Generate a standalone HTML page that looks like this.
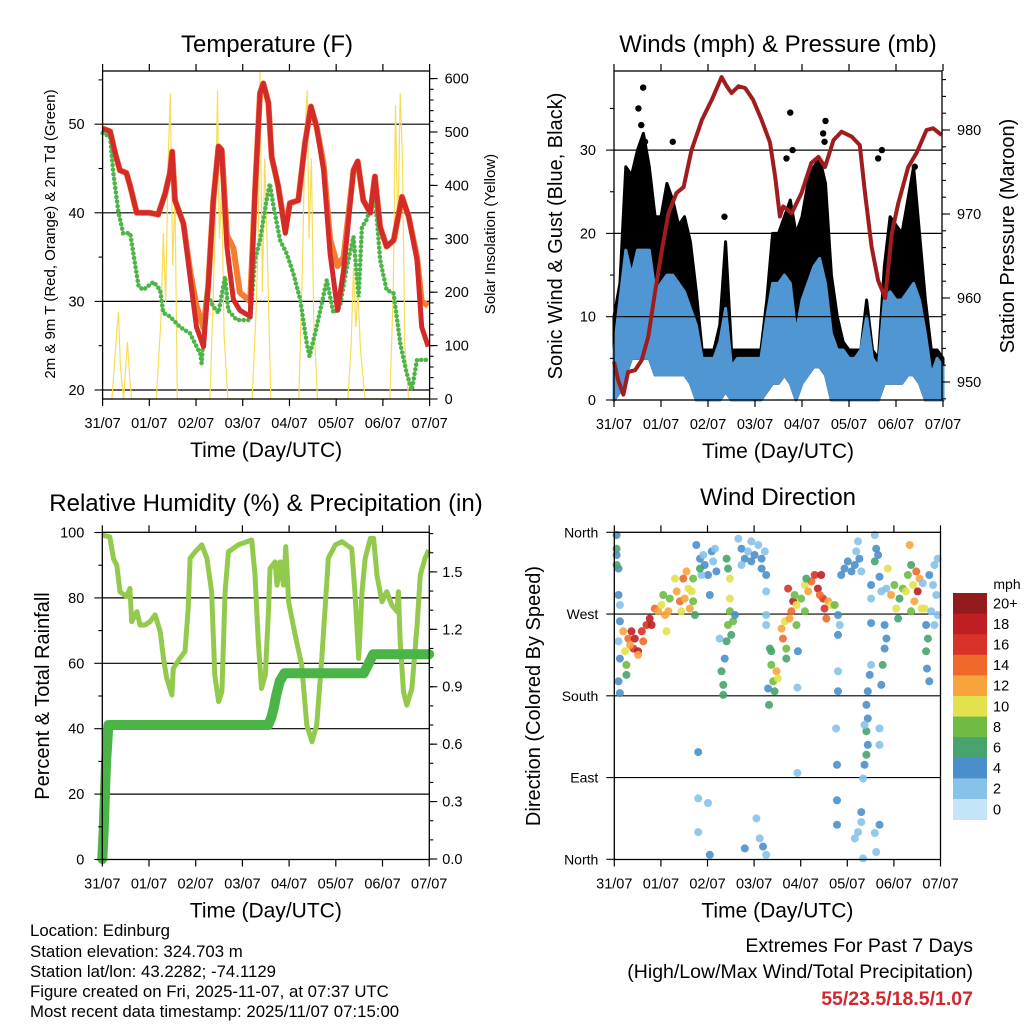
<!DOCTYPE html>
<html><head><meta charset="utf-8"><style>
body{margin:0;background:#fff;}
svg{display:block;font-family:"Liberation Sans",Arial,sans-serif;}
</style></head><body>
<svg id="root" width="1024" height="1024" viewBox="0 0 1024 1024" xmlns="http://www.w3.org/2000/svg">
<rect width="1024" height="1024" fill="#fff"/>
<g id="p1"></g>
<g id="p2"></g>
<g id="p3"></g>
<g id="p4"></g>
<g id="cb"></g>
<g font-size="16.8" fill="#000">
<text x="30" y="936">Location: Edinburg</text>
<text x="30" y="957">Station elevation: 324.703 m</text>
<text x="30" y="977">Station lat/lon: 43.2282; -74.1129</text>
<text x="30" y="997">Figure created on Fri, 2025-11-07, at 07:37 UTC</text>
<text x="30" y="1017">Most recent data timestamp: 2025/11/07 07:15:00</text>
</g>
<g text-anchor="end">
<text x="973" y="952" font-size="19.5">Extremes For Past 7 Days</text>
<text x="973" y="978" font-size="19.5">(High/Low/Max Wind/Total Precipitation)</text>
<text x="973" y="1005" font-size="19.5" font-weight="bold" fill="#d0282e">55/23.5/18.5/1.07</text>
</g>
</svg>
<script>
// ---------- Temperature data ----------
const tDays=[0,0.16,0.27,0.37,0.51,0.59,0.73,1.01,1.19,1.34,1.44,1.49,1.55,1.73,1.87,2.01,2.16,2.26,2.37,2.48,2.55,2.66,2.8,2.94,3.16,3.26,3.37,3.44,3.55,3.62,3.76,3.91,4.01,4.19,4.33,4.46,4.58,4.73,4.87,5.03,5.16,5.37,5.46,5.58,5.73,5.83,5.94,6.08,6.23,6.41,6.55,6.73,6.83,6.97];
const tRed=[49.5,49.2,46.7,44.8,44.5,43,40,40,39.8,42.2,44.5,46.9,41.4,38.8,32.8,27.1,24.9,31.7,41.4,47.5,47.1,36.2,30.2,29,28.3,42.2,53.5,54.6,52.4,46.3,43,37.7,41.1,41.4,47.8,52,49.7,44.8,35.4,29,33.5,44.8,45.8,41.4,40,44.1,38.4,36.2,36.9,41.8,39.6,34.7,27.1,24.9];
const tOrange=[49.5,49.2,46.7,44.8,44.5,43,40,40,39.8,42.2,44.5,46.9,41.4,38.8,33.5,29.5,27,31.7,41.4,47.5,47.1,37.5,36,31,30,42.2,53.5,54.6,52.4,46.3,43,38,41.1,41.4,47.8,52,49.7,45.5,37,34,35,44.8,45.8,41.4,40,44.1,38.4,36.2,36.9,41.8,39.6,35,30,29.5];
const tdDays=[0,0.16,0.23,0.34,0.44,0.59,0.66,0.77,0.87,1.09,1.23,1.3,1.44,1.66,1.87,2.09,2.12,2.23,2.37,2.48,2.62,2.69,2.87,3.16,3.26,3.37,3.51,3.58,3.66,3.8,3.94,4.08,4.23,4.37,4.43,4.58,4.8,4.94,5.08,5.23,5.37,5.48,5.55,5.65,5.83,5.94,6.08,6.23,6.37,6.51,6.62,6.73,6.87,6.97];
const tdVals=[49,48.6,44.5,40,37.7,37.7,35.4,31.7,31.3,32.2,31.3,28.7,28.3,27.1,26.4,24.1,23,30.9,29.4,28.7,32.8,29,27.9,27.9,34.7,36.9,41.4,43.3,40.7,36.9,35.4,33.2,30.2,25.3,23.8,27.1,32.4,28.7,29.4,33.9,37.3,30.5,38.4,39.2,42.2,34.7,31.3,30.9,25.3,21.9,20,23.4,23.4,23.4];
const solDays=[0,0.2,0.3,0.34,0.38,0.45,0.53,0.58,0.62,1.15,1.25,1.3,1.35,1.4,1.45,1.5,1.55,1.6,2.3,2.37,2.42,2.46,2.5,2.55,2.6,2.68,3.2,3.28,3.33,3.37,3.42,3.47,3.52,3.6,4.2,4.28,4.33,4.38,4.42,4.47,4.52,4.6,5.25,5.32,5.37,5.42,5.47,5.52,5.62,6.15,6.22,6.27,6.32,6.37,6.42,6.47,6.55,7];
const solVals=[0,0,120,163,60,0,107,40,0,0,150,311,180,435,573,250,380,0,0,200,341,578,300,400,120,0,0,150,300,613,200,450,300,0,0,250,500,578,300,450,150,0,0,100,248,135,200,90,0,0,200,550,300,573,450,100,0,0];
// ---------- Wind data ----------
const wDays=[0,0.125,0.25,0.375,0.5,0.625,0.75,0.875,1,1.125,1.25,1.375,1.5,1.625,1.75,1.875,2,2.125,2.25,2.375,2.5,2.625,2.75,2.875,3,3.125,3.25,3.375,3.5,3.625,3.75,3.875,4,4.125,4.25,4.375,4.5,4.625,4.75,4.875,5,5.125,5.25,5.375,5.5,5.625,5.75,5.875,6,6.125,6.25,6.375,6.5,6.625,6.75,6.875,7];
const windLo=[0,1,3,5,5,5,5,3,3,3,3,3,3,2,0,0,0,0,0,1,0,0,0,0,0,0,1,2,2,3,2,0,2,3,4,4,3,0,0,0,0,0,0,0,0,0,2,2,2,2,3,3,2,0,0,0,0];
const windHi=[6,12,18,15,18,18,18,13,14,15,15,14,13,11,9,5,5,5,7,11,4,5,5,5,5,5,10,14,14,15,14,8,12,14,16,17,14,8,6,6,5,5,6,10,5,4,12,13,12,12,13,14,12,8,3,5,4];
const gustHi=[10,14,28,27,30,32,28,22,22,26,24,21,22,19,13,6,6,6,9,19,6,6,6,6,6,6,12,20,20,22,24,20,22,26,28,29,26,15,10,7,6,6,6,12,6,5,16,22,21,20,24,28,20,12,6,6,5];
const gustOutDays=[0.52,0.58,0.62,0.66,1.25,2.35,3.67,3.75,3.8,4.45,4.5,4.48,5.62,5.7,6.4];
const gustOutVals=[35,33,37.5,31,31,22,29,34.5,30,32,33.5,31,29,30,28];
const pDays=[0,0.09,0.2,0.3,0.45,0.59,0.73,0.87,1.01,1.16,1.33,1.48,1.65,1.87,2.08,2.29,2.4,2.5,2.65,2.79,2.96,3.14,3.32,3.43,3.53,3.6,3.78,3.99,4.2,4.35,4.49,4.67,4.84,5.06,5.23,5.34,5.48,5.62,5.77,5.91,6.05,6.26,6.44,6.65,6.79,6.97];
const pVals=[952.4,950.2,948.5,951.2,951.4,952.6,955.4,960.6,965.4,970.1,972.5,973.2,977.6,981.2,983.6,986.3,985.2,984.4,985.2,985,983.6,981.2,978.5,974.4,969.7,970.9,970.1,972.5,976.1,976.8,975.6,978.8,979.8,979.2,978.2,972.5,966.1,962.1,960,967.7,971.3,975.6,977.3,980,980.2,979.4];
// ---------- RH / Precip ----------
const rhDays=[0,0.16,0.24,0.31,0.38,0.52,0.59,0.63,0.74,0.81,0.91,1.02,1.13,1.24,1.31,1.38,1.49,1.52,1.66,1.77,1.84,1.88,1.99,2.13,2.24,2.34,2.41,2.49,2.56,2.63,2.7,2.91,3.2,3.27,3.34,3.41,3.49,3.56,3.59,3.7,3.74,3.81,3.88,3.93,3.99,4.13,4.27,4.38,4.49,4.59,4.7,4.77,4.84,4.99,5.13,5.34,5.41,5.49,5.56,5.63,5.74,5.81,5.88,5.99,6.09,6.2,6.31,6.34,6.38,6.45,6.52,6.63,6.74,6.81,6.91,6.99];
const rhVals=[99.2,98.7,92,90,81.9,80.4,82.9,72.7,75.8,71.7,71.7,72.7,74.8,69.7,61.5,55.4,50.3,58.4,61.5,63.6,76.8,92.1,94.1,96.2,92.1,81.9,56.4,48.3,51.3,81.9,94.1,96.2,97.7,87,66.6,52.3,56.4,76.8,89,91,83.9,91,83.9,95.7,78.8,68.6,59.5,41.1,36,41.1,61.5,76.8,92.1,96.2,97.2,95.1,81.9,61.5,81.9,92.1,98.2,98.2,87,78.8,81.9,77.8,75.8,81.9,66.6,51.3,47.2,52.3,71.7,87,92.1,94.6];
const prDays=[0,0.03,0.08,0.13,3.55,3.62,3.68,3.72,3.8,3.9,5.6,5.7,5.8,7];
const prVals=[0,0.15,0.5,0.7,0.7,0.74,0.8,0.85,0.93,0.97,0.97,1.02,1.07,1.07];
// ---------- Wind direction ----------
const wdDays=[0.05,0.05,0.09,0.09,0.12,0.12,0.09,0.12,0.09,0.12,0.05,0.05,0.19,0.23,0.26,0.3,0.37,0.41,0.44,0.51,0.59,0.62,0.26,0.34,0.51,0.69,0.76,0.8,0.87,0.94,1.01,1.09,1.12,1.19,1.16,1.05,1.3,1.34,1.41,1.48,1.51,1.59,1.66,1.69,1.62,1.44,1.55,1.73,1.69,1.76,1.84,1.91,1.94,2.01,2.09,2.12,2.19,2.16,1.87,1.84,2.05,1.8,1.8,2.01,1.8,2.05,2.26,2.41,2.44,2.48,2.48,2.48,2.44,2.51,2.37,2.3,2.34,2.34,2.55,2.59,2.41,2.66,2.73,2.8,2.87,2.94,3.01,3.09,3.16,3.23,2.73,2.94,3.26,3.26,3.16,3.05,3.12,3.19,2.8,3.26,3.26,3.26,3.34,3.37,3.41,3.44,3.48,3.51,3.37,3.3,3.32,3.59,3.62,3.66,3.69,3.73,3.76,3.8,3.84,3.87,3.91,3.69,3.94,3.93,3.93,4.01,4.09,4.16,4.23,4.3,4.37,4.44,4.48,4.51,4.55,4.59,4.66,4.73,4.09,4.41,4.12,3.91,4.8,4.84,4.8,4.87,4.94,5.01,5.09,5.16,5.19,5.23,5.26,5.3,4.8,4.8,4.76,4.78,4.78,4.78,5.34,5.44,5.41,5.44,5.41,5.44,5.41,5.37,5.48,5.51,5.37,5.3,5.3,5.23,5.16,5.34,5.62,5.69,5.59,5.59,5.62,5.59,5.66,5.51,5.51,5.51,5.69,5.73,5.8,5.84,5.8,5.76,5.73,5.69,5.69,5.84,5.87,5.94,6.01,6.05,6.09,6.12,6.19,6.26,6.3,6.34,6.37,6.41,6.44,6.48,6.51,6.55,6.59,6.37,6.66,6.69,6.73,6.69,6.71,6.76,6.62,6.76,6.84,6.87,6.94,6.91,6.8,6.94,6.87];
const wdDirs=[357,335,320,291,280,262,240,221,196,183,342,324,251,229,214,243,251,232,243,229,251,240,203,236,225,258,265,258,276,273,280,269,251,287,273,291,309,295,284,309,287,298,295,284,276,273,317,269,309,346,331,335,324,313,339,328,317,342,313,320,291,118,67,62,30,5,243,331,320,309,287,273,258,247,221,207,192,181,262,269,240,353,342,331,339,328,335,346,331,339,324,350,313,295,320,45,23,14,12,5,269,258,232,214,196,185,207,199,229,188,170,254,243,262,232,298,265,273,284,291,258,221,229,189,95,287,302,295,306,313,298,313,287,276,265,284,280,280,273,291,309,280,269,258,247,313,320,328,317,324,339,350,331,317,207,185,144,104,65,38,89,185,170,155,141,126,115,104,203,214,148,41,52,30,23,1,8,38,29,357,342,328,335,302,287,260,311,295,258,243,232,214,192,144,126,298,320,291,302,276,265,287,298,295,313,346,324,302,284,317,295,309,276,273,276,258,243,229,210,196,304,313,302,324,331,291,273,269,258];
const wdSpeeds=[4,4,4,4,3,4,3,4,4,4,6,6,12,10,8,14,18,16,18,18,16,14,6,12,12,16,18,18,14,12,10,12,10,8,12,8,10,12,14,14,12,10,10,8,12,10,12,6,8,4,4,2,4,4,4,2,4,2,2,6,4,4,2,2,2,4,2,6,6,10,10,8,8,6,4,6,6,6,8,4,6,2,4,4,2,4,4,2,4,2,2,2,4,2,4,2,2,4,4,2,2,2,6,8,8,6,12,10,6,4,6,12,14,10,8,16,12,14,18,8,8,6,4,2,2,8,10,12,14,16,18,18,16,16,14,12,10,8,8,14,6,10,4,2,4,4,4,4,4,4,2,2,4,2,2,4,2,4,4,4,2,4,4,4,6,4,6,4,4,2,2,2,4,2,2,2,2,4,2,2,4,6,4,4,2,4,4,2,4,4,4,6,4,2,2,2,10,12,8,10,6,6,8,10,8,12,6,10,12,14,18,12,10,8,10,4,6,6,4,4,2,4,2,2,2,2,2,2,2,2];
// ---------- colorbar ----------
const cbLabels=["0","2","4","6","8","10","12","14","16","18","20+"];
const cbColors=["#c3e5f7","#86c2ea","#4a8fcb","#46a46c","#6fbb43","#e2e14e","#f7a43d","#ee6a2b","#d8322a","#bd1f22","#931a1d"];

const NS="http://www.w3.org/2000/svg";
function mk(parent,tag,attrs,name,inter){
  const e=document.createElementNS(NS,tag);
  for(const k in attrs)e.setAttribute(k,attrs[k]);
  
  
  parent.appendChild(e);return e;
}
function txt(parent,x,y,s,size,anchor,name,extra){
  const t=mk(parent,'text',Object.assign({x:x,y:y,'font-size':size,'text-anchor':anchor||'middle',fill:'#000'},extra||{}),name,false);
  t.textContent=s;return t;
}
function pathD(xs,ys,fx,fy){return xs.map((d,i)=>(i?'L':'M')+fx(d).toFixed(1)+','+fy(ys[i]).toFixed(1)).join('');}
const dayLabels=["31/07","01/07","02/07","03/07","04/07","05/07","06/07","07/07"];

function frame(g,L,R,T,B,fx,prefix){
  mk(g,'rect',{x:L,y:T,width:R-L,height:B-T,fill:'none',stroke:'#000','stroke-width':1.3},prefix+'-frame',false);
  for(let d=0;d<=7;d++){
    const x=fx(d);
    mk(g,'line',{x1:x,y1:B,x2:x,y2:B+7,stroke:'#000','stroke-width':1.2},'x-tick',false);
    mk(g,'line',{x1:x,y1:T,x2:x,y2:T-7,stroke:'#000','stroke-width':1.2},'x-tick-top',false);
    txt(g,x,B+29,dayLabels[d],14.5,'middle','x-tick-label');
  }
  txt(g,(L+R)/2,B+58,'Time (Day/UTC)',21,'middle','x-axis-title');
}
function yTicks(g,side,edge,vals,fy,lbl,len,labelOff,size){
  vals.forEach((v,i)=>{
    const y=fy(v);
    const x2=side==='L'?edge-len:edge+len;
    mk(g,'line',{x1:edge,y1:y,x2:x2,y2:y,stroke:'#000','stroke-width':1.1},'y-tick',false);
    if(lbl&&lbl[i]!=null)txt(g,side==='L'?edge-labelOff:edge+labelOff,y+5,lbl[i],size||14.5,side==='L'?'end':'start','y-tick-label');
  });
}
function grid(g,L,R,ys,fy){ys.forEach(v=>mk(g,'line',{x1:L,y1:fy(v),x2:R,y2:fy(v),stroke:'#000','stroke-width':1.2},'grid-line',false));}
function range(a,b,s){const r=[];for(let v=a;v<=b+1e-9;v+=s)r.push(+v.toFixed(3));return r;}

// ===== Panel 1 =====
(function(){
  const g=document.getElementById('p1');
  const L=102.6,R=429.6,T=71,B=399;
  const fx=d=>L+d*(R-L)/7, fy=t=>390-(t-20)*8.86, fs=s=>399-s*0.534;
  txt(g,267,52,'Temperature (F)',24,'middle','chart-title');
  grid(g,L,R,[20,30,40,50],fy);
  mk(g,'path',{d:pathD(solDays,solVals,fx,fs),fill:'none',stroke:'#f8dc55','stroke-width':1.2},'solar-line',false);
  mk(g,'path',{d:pathD(tDays,tOrange,fx,fy),fill:'none',stroke:'#f47d30','stroke-width':6,'stroke-linejoin':'round'},'temp-9m-line',false);
  mk(g,'path',{d:pathD(tdDays,tdVals,fx,fy),fill:'none',stroke:'#4db548','stroke-width':4.5,'stroke-dasharray':'0.1 4.5','stroke-linecap':'round'},'dewpoint-line',false);
  mk(g,'path',{d:pathD(tDays,tRed,fx,fy),fill:'none',stroke:'#d42a2a','stroke-width':5,'stroke-linejoin':'round'},'temp-2m-line',false);
  frame(g,L,R,T,B,fx,'temp');
  yTicks(g,'L',L,[20,30,40,50],fy,['20','30','40','50'],8,18);
  yTicks(g,'L',L,[25,35,45,55],fy,null,4,0);
  yTicks(g,'R',R,[0,100,200,300,400,500,600],fs,['0','100','200','300','400','500','600'],8,15);
  yTicks(g,'R',R,range(20,600,20),fs,null,4,0);
  txt(g,0,0,'2m & 9m T (Red, Orange) & 2m Td (Green)',15,'middle','y-axis-title-left',{transform:'translate(55,234) rotate(-90)'});
  txt(g,0,0,'Solar Insolation (Yellow)',15,'middle','y-axis-title-right',{transform:'translate(495,234) rotate(-90)'});
})();

// ===== Panel 2 =====
(function(){
  const g=document.getElementById('p2');
  const L=614,R=942,T=71,B=400;
  const fx=d=>L+d*47, fy=w=>400-w*8.33, fp=p=>382-(p-950)*8.4;
  txt(g,778,52,'Winds (mph) & Pressure (mb)',24,'middle','chart-title');
  const band=(lo,hi)=>{let s='';wDays.forEach((d,i)=>{s+=(i?'L':'M')+fx(d).toFixed(1)+','+fy(hi[i]).toFixed(1);});for(let i=wDays.length-1;i>=0;i--)s+='L'+fx(wDays[i]).toFixed(1)+','+fy(lo[i]).toFixed(1);return s+'Z';};
  mk(g,'path',{d:band(windLo,gustHi),fill:'#000',stroke:'#000','stroke-width':3,'stroke-linejoin':'round'},'gust-points',false);
  gustOutDays.forEach((d,i)=>{mk(g,'circle',{cx:fx(d),cy:fy(gustOutVals[i]),r:3.2,fill:'#000'},'gust-point',false);});
  mk(g,'path',{d:band(windLo,windHi),fill:'#4f96d2',stroke:'#4f96d2','stroke-width':3,'stroke-linejoin':'round'},'wind-speed-band',false);
  grid(g,L,R,[10,20,30],fy);
  mk(g,'path',{d:pathD(pDays,pVals,fx,fp),fill:'none',stroke:'#a11c1f','stroke-width':4,'stroke-linejoin':'round'},'pressure-line',false);
  frame(g,L,R,T,B,fx,'winds');
  yTicks(g,'L',L,[0,10,20,30],fy,['0','10','20','30'],8,18);
  yTicks(g,'L',L,[5,15,25,35],fy,null,4,0);
  yTicks(g,'R',R,[950,960,970,980],fp,['950','960','970','980'],8,15);
  yTicks(g,'R',R,range(948,986,2),fp,null,4,0);
  txt(g,0,0,'Sonic Wind & Gust (Blue, Black)',20,'middle','y-axis-title-left',{transform:'translate(562,236) rotate(-90)'});
  txt(g,0,0,'Station Pressure (Maroon)',20,'middle','y-axis-title-right',{transform:'translate(1014,236) rotate(-90)'});
})();

// ===== Panel 3 =====
(function(){
  const g=document.getElementById('p3');
  const L=102.3,R=429.3,T=532.3,B=859.5;
  const fx=d=>L+d*46.7, fy=v=>859.5-v*3.27, fp=p=>859-p*191.4;
  txt(g,266,511,'Relative Humidity (%) & Precipitation (in)',24,'middle','chart-title');
  grid(g,L,R,[20,40,60,80],fy);
  mk(g,'path',{d:pathD(rhDays,rhVals,fx,fy),fill:'none',stroke:'#93ca4e','stroke-width':5,'stroke-linejoin':'round'},'rh-line',false);
  mk(g,'path',{d:pathD(prDays,prVals,fx,fp),fill:'none',stroke:'#4ab446','stroke-width':10,'stroke-linejoin':'round','stroke-linecap':'round'},'precip-line',false);
  frame(g,L,R,T,B,fx,'rh');
  yTicks(g,'L',L,[0,20,40,60,80,100],fy,['0','20','40','60','80','100'],8,18);
  yTicks(g,'L',L,[10,30,50,70,90],fy,null,4,0);
  yTicks(g,'R',R,[0,0.3,0.6,0.9,1.2,1.5],fp,['0.0','0.3','0.6','0.9','1.2','1.5'],8,13);
  yTicks(g,'R',R,range(0,1.7,0.1),fp,null,4,0);
  txt(g,0,0,'Percent & Total Rainfall',20,'middle','y-axis-title-left',{transform:'translate(49,696) rotate(-90)'});
})();

// ===== Panel 4 =====
(function(){
  const g=document.getElementById('p4');
  const L=614.3,R=940.5,T=532.3,B=859.5;
  const fx=d=>L+d*46.6, fy=v=>859.3-v*0.9083;
  txt(g,778,505,'Wind Direction',24,'middle','chart-title');
  grid(g,L,R,[90,180,270],fy);
  const ci=s=>Math.min(10,Math.floor(s/2));
  wdDays.forEach((d,i)=>{
    mk(g,'circle',{cx:fx(d).toFixed(1),cy:fy(wdDirs[i]).toFixed(1),r:4,fill:cbColors[ci(wdSpeeds[i])],'fill-opacity':0.9},'direction-point',false);
  });
  frame(g,L,R,T,B,fx,'direction');
  yTicks(g,'L',L,[0,90,180,270,360],fy,['North','East','South','West','North'],8,16,14);
  txt(g,0,0,'Direction (Colored By Speed)',20,'middle','y-axis-title-left',{transform:'translate(540,696) rotate(-90)'});
})();

// ===== Colorbar =====
(function(){
  const g=document.getElementById('cb');
  const x=953,w=34,top=593,h=20.6;
  txt(g,1007,589,'mph',14,'middle','colorbar-title');
  for(let i=0;i<cbLabels.length;i++){
    const k=cbLabels.length-1-i;
    mk(g,'rect',{x:x,y:top+i*h,width:w,height:h+0.4,fill:cbColors[k]},'colorbar-box-'+cbLabels[k].replace('+','plus'),false);
    txt(g,993,top+i*h+h/2+5,cbLabels[k],14.5,'start','colorbar-label');
  }
})();
</script>
</body></html>
